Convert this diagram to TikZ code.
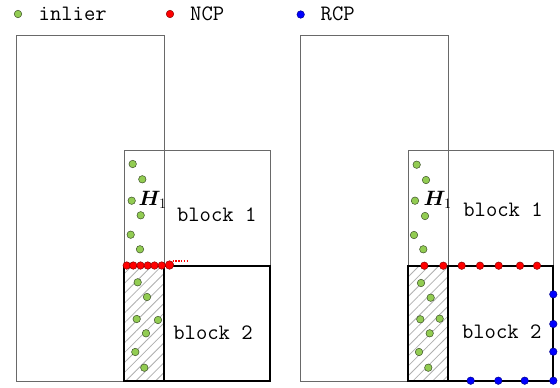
\documentclass[tikz,border=0pt]{standalone}
\usepackage{fontspec}
\usepackage{bm}
\usetikzlibrary{patterns.meta}

\definecolor{inliergreen}{RGB}{146,204,82}
\definecolor{inlieredge}{RGB}{60,80,40}
\definecolor{framegray}{RGB}{105,105,105}
\definecolor{hatchgray}{RGB}{175,175,175}

\tikzset{
  thinframe/.style={draw=framegray, line width=0.8pt},
  thickframe/.style={draw=black, line width=1.7pt},
  hatched/.style={pattern={Lines[angle=45,distance=7pt,line width=0.8pt]}, pattern color=hatchgray},
  dotbase/.style={circle, inner sep=0pt, line width=0.5pt},
  inlier/.style={dotbase, minimum size=7.5pt, fill=inliergreen, draw=inlieredge},
  ncp/.style={dotbase, minimum size=7.5pt, fill=red, draw=red!55!black},
  ncpbig/.style={dotbase, minimum size=8.5pt, fill=red, draw=red!55!black},
  rcp/.style={dotbase, minimum size=7.5pt, fill=blue, draw=blue!55!black},
  lbl/.style={font=\fontsize{22}{22}\selectfont\ttfamily\addfontfeatures{FakeStretch=0.87}, inner sep=0pt, anchor=base},
  hlbl/.style={font=\fontsize{20}{20}\selectfont, inner sep=0pt, anchor=base west},
}

\begin{document}
\begin{tikzpicture}[x=1pt, y=-1pt]
\useasboundingbox (0,0) rectangle (560,388);

% legend
\node[inlier] (leg-in) at (18,14) {};
\node[lbl, anchor=base west] (leg-in-t) at (38.5,20.7) {inlier};
\node[ncp] (leg-ncp) at (170,14) {};
\node[lbl, anchor=base west] (leg-ncp-t) at (190,20.7) {NCP};
\node[rcp] (leg-rcp) at (300.7,14.5) {};
\node[lbl, anchor=base west] (leg-rcp-t) at (320.5,20.7) {RCP};

% ---------- left panel ----------
\draw[thinframe] (16,35) rectangle (164,381);
\draw[thinframe] (124,150) rectangle (270,266);
\fill[white] (124,266) rectangle (270,381);
\fill[hatched] (124,266) rectangle (164,381);
\draw[thickframe] (124,266) rectangle (270,381);
\draw[thickframe] (164,266) -- (164,381);

\node[hlbl] (L-H) at (138.5,205.5) {$\bm{H}_{1}$};
\node[lbl] (L-b1) at (216.7,221) {block 1};
\node[lbl] (L-b2) at (213,339) {block 2};

\foreach \px/\py [count=\i] in {132.7/164, 142.3/179.3, 131.7/200.7, 140.7/215.3, 130.7/234.7, 140/249.3,
    137.7/282.3, 147/297, 136.7/319, 158/320, 146/333.3, 135.3/352, 144.3/367.7}
  \node[inlier] (L-g\i) at (\px,\py) {};

\draw[red, line width=1.1pt, dash pattern=on 1.4pt off 1.4pt] (172.5,261) -- (188,261);
\foreach \px [count=\i] in {126.7,133.3,140.5,147.7,154.5,161.7}
  \node[ncp] (L-n\i) at (\px,265.5) {};
\node[ncpbig] (L-n7) at (169.5,265) {};

% ---------- right panel ----------
\draw[thinframe] (300,35) rectangle (448,381);
\draw[thinframe] (408,150) rectangle (553,266);
\fill[white] (408,266) rectangle (553,381);
\fill[hatched] (408,266) rectangle (448,381);
\draw[thickframe] (408,266) rectangle (553,381);
\draw[thickframe] (448,266) -- (448,381);

\node[hlbl] (R-H) at (423.5,205.5) {$\bm{H}_{1}$};
\node[lbl] (R-b1) at (503,216) {block 1};
\node[lbl] (R-b2) at (501.7,338) {block 2};

\foreach \px/\py [count=\i] in {416.7/164.7, 426/180, 415/200.7, 425/216, 414/235, 423.3/249.3,
    421/283, 430.7/297.7, 420.3/319.3, 439.7/318.7, 429.7/333.3, 419/352, 428.3/367.7}
  \node[inlier] (R-g\i) at (\px,\py) {};

\foreach \px [count=\i] in {424.3,443.3,461.7,480,498.7,520,537}
  \node[ncp] (R-n\i) at (\px,265.7) {};

\foreach \py [count=\i] in {294.3,324,351.7,380.7}
  \node[rcp] (R-r\i) at (553.3,\py) {};
\foreach \px [count=\i] in {470.7,498.3,524.7}
  \node[rcp] (R-s\i) at (\px,380.7) {};

\end{tikzpicture}
\end{document}
